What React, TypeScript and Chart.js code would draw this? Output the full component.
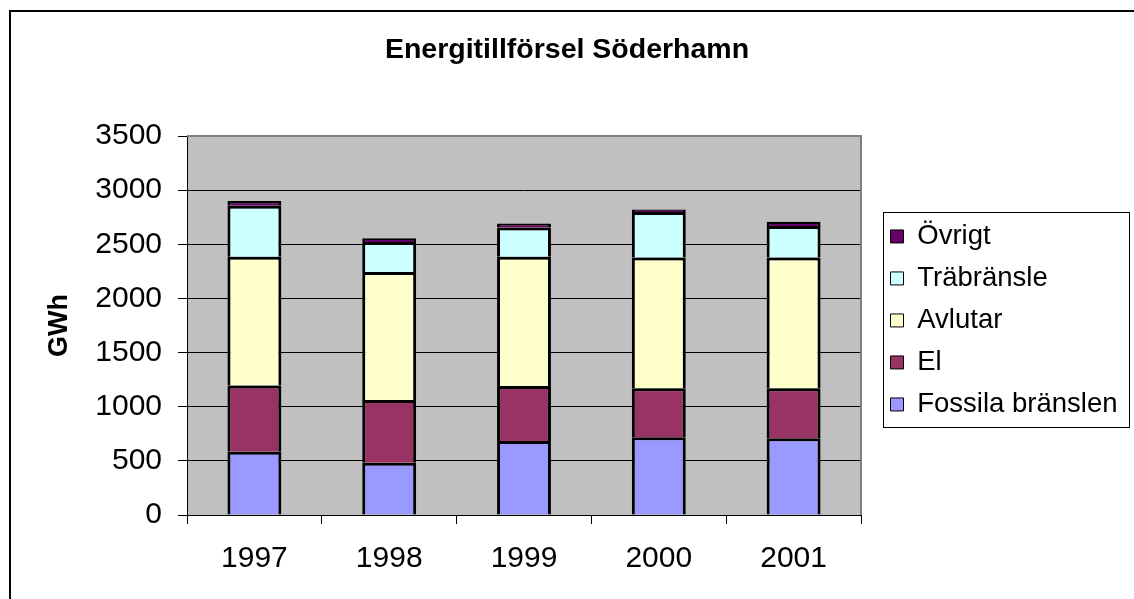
import React, { useEffect, useRef } from 'react';
import { Chart, registerables } from 'chart.js';

Chart.register(...registerables);

const years = ['1997', '1998', '1999', '2000', '2001'];
const fossila = [585, 483, 683, 717, 708];
const el = [610, 580, 508, 453, 462];
const avlutar = [1190, 1182, 1194, 1209, 1209];
const trabransle = [470, 277, 271, 418, 289];
const ovrigt = [45, 34, 37, 25, 40];

const seriesNames = ['Fossila bränslen', 'El', 'Avlutar', 'Träbränsle', 'Övrigt'];
const seriesColors = ['#9999FF', '#993366', '#FFFFCC', '#CCFFFF', '#660066'];
const yTicks = [0, 500, 1000, 1500, 2000, 2500, 3000, 3500];

const FONT = '"Liberation Sans", Arial, Helvetica, sans-serif';

export default function App() {
  const ref = useRef<HTMLCanvasElement>(null);

  useEffect(() => {
    const canvas = ref.current;
    if (!canvas) return;

    const excelPlugin = {
      id: 'excelLook',
      beforeDraw(chart: any) {
        const { ctx, chartArea: a } = chart;
        ctx.save();
        ctx.fillStyle = '#C0C0C0';
        ctx.fillRect(a.left, a.top, a.right - a.left, a.bottom - a.top);
        ctx.restore();
      },
      beforeDatasetsDraw(chart: any) {
        const { ctx, chartArea: a } = chart;
        ctx.save();
        ctx.strokeStyle = '#808080';
        ctx.lineWidth = 2;
        ctx.beginPath();
        ctx.moveTo(a.left, a.top);
        ctx.lineTo(a.right, a.top);
        ctx.lineTo(a.right, a.bottom);
        ctx.stroke();
        ctx.restore();
      },
      afterLayout(chart: any) {
        const a = chart.chartArea;
        const tb = chart.titleBlock;
        if (tb) {
          tb.left = 0;
          tb.right = chart.width;
          tb.width = chart.width;
        }
        const lg = chart.legend;
        if (!lg) return;
        const w = lg.width;
        const h = lg.height;
        lg.left = a.right + 15;
        lg.top = a.top + 72.2;
        lg.right = lg.left + w;
        lg.bottom = lg.top + h;
      },
      afterDraw(chart: any) {
        const lg = chart.legend;
        if (!lg) return;
        const ctx = chart.ctx;
        ctx.save();
        ctx.strokeStyle = '#000';
        ctx.lineWidth = 1;
        ctx.strokeRect(Math.round(lg.left + 6.7) + 0.5, Math.round(lg.top + 3.5) + 0.5, 246, 215);
        ctx.restore();
      },
    };

    const values = [fossila, el, avlutar, trabransle, ovrigt];

    const chart = new Chart(canvas, {
      type: 'bar',
      data: {
        labels: years,
        datasets: values.map((d, i) => ({
          label: seriesNames[i],
          data: d,
          backgroundColor: seriesColors[i],
          borderColor: '#000',
          borderWidth: { top: 3, left: 3, right: 3, bottom: 0 },
          borderSkipped: false,
          inflateAmount: 0,
          barPercentage: 0.4,
          categoryPercentage: 1,
        })),
      },
      options: {
        animation: false,
        responsive: false,
        events: [],
        layout: { padding: { left: 0, top: 0, right: 273, bottom: 0 } },
        plugins: {
          title: {
            display: true,
            text: 'Energitillförsel Söderhamn',
            color: '#000',
            font: { family: FONT, size: 28.5, weight: 'bold' },
            padding: { top: 32.6, bottom: 69.2 },
          },
          legend: {
            position: 'chartArea',
            align: 'start',
            reverse: true,
            labels: {
              color: '#000',
              font: { family: FONT, size: 27.5 },
              boxWidth: 13,
              boxHeight: 13,
              padding: 14.5,
              generateLabels: (c: any) =>
                Chart.defaults.plugins.legend.labels
                  .generateLabels(c)
                  .map((l: any) => ({ ...l, lineWidth: 1, strokeStyle: '#000' })),
            },
          },
          tooltip: { enabled: false },
        },
        scales: {
          x: {
            stacked: true,
            grid: {
              offset: true,
              drawOnChartArea: false,
              color: '#000',
              tickColor: '#000',
              tickLength: 9,
            },
            border: { color: '#000', width: 1 },
            ticks: {
              color: '#000',
              font: { family: FONT, size: 30 },
              padding: 17,
              maxRotation: 0,
            },
            afterFit: (s: any) => {
              s.height = 84;
            },
          },
          y: {
            stacked: true,
            min: yTicks[0],
            max: yTicks[yTicks.length - 1],
            afterBuildTicks: (s: any) => {
              s.ticks = yTicks.map((v) => ({ value: v }));
            },
            ticks: {
              color: '#000',
              font: { family: FONT, size: 30 },
              padding: 16,
              callback: (v: any) => String(v),
            },
            grid: { color: '#000', tickColor: '#000', tickLength: 9, lineWidth: 1 },
            border: { color: '#000', width: 1 },
            title: {
              display: true,
              text: 'GWh',
              color: '#000',
              font: { family: FONT, size: 27, weight: 'bold' },
              padding: { top: 43.8, bottom: 0 },
            },
            afterFit: (s: any) => {
              s.width = 187;
            },
          },
        },
      },
      plugins: [excelPlugin],
    } as any);

    return () => chart.destroy();
  }, []);

  return (
    <div
      style={{
        position: 'fixed',
        left: 0,
        top: 0,
        width: 1134,
        height: 599,
        overflow: 'hidden',
        background: '#fff',
      }}
    >
      <div
        style={{
          position: 'absolute',
          left: 9,
          top: 10,
          width: 1200,
          height: 700,
          border: '2px solid #000',
        }}
      />
      <canvas
        ref={ref}
        width={1134}
        height={599}
        style={{ position: 'absolute', left: 0, top: 0, width: 1134, height: 599 }}
      />
    </div>
  );
}
